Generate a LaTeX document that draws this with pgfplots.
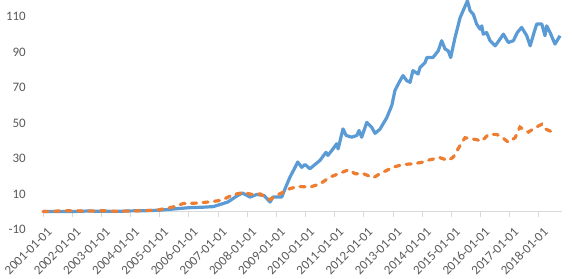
\documentclass[border=0pt]{standalone}
\usepackage{fontspec}
\setmainfont{Carlito}
\usepackage{pgfplots}
\pgfplotsset{compat=1.18}
\definecolor{ser1}{HTML}{5B9BD5}
\definecolor{ser2}{HTML}{ED7D31}
\definecolor{lbl}{HTML}{595959}
\definecolor{axl}{HTML}{D9D9D9}
\begin{document}
\begin{tikzpicture}
\begin{axis}[
  at={(0,0)}, anchor=south west,
  scale only axis, width=519bp, height=230.2bp,
  xmin=0, xmax=213.5, ymin=-10, ymax=120,
  axis x line=middle, axis y line=left,
  hide obscured x ticks=false,
  hide obscured y ticks=false,
  x axis line style={-, draw=axl, line width=1bp},
  y axis line style={draw=none},
  xtick={0,12,...,204},
  xticklabels={2001-01-01,2002-01-01,2003-01-01,2004-01-01,2005-01-01,2006-01-01,2007-01-01,2008-01-01,2009-01-01,2010-01-01,2011-01-01,2012-01-01,2013-01-01,2014-01-01,2015-01-01,2016-01-01,2017-01-01,2018-01-01},
  ytick={-10,10,30,50,70,90,110},
  yticklabels={-10,10,30,50,70,90,110},
  ytick style={draw=none},
  xtick style={draw=axl, line width=1bp},
  tick align=outside, major tick length=5bp,
  xticklabel style={xshift=3.5bp, yshift=-8.5bp, rotate=45, anchor=north east, font=\fontsize{13}{15}\selectfont, text=lbl, inner sep=1bp},
  yticklabel style={font=\fontsize{13}{15}\selectfont, text=lbl, anchor=east, inner sep=0pt, xshift=-12bp},
  /pgf/number format/assume math mode=true,
  clip=false,
]
\addplot[ser1, line width=3.2bp, line join=round] coordinates {
(0,0)(6,0.1)(12,0)(18,0.3)(24,0.2)(30,0.1)(36,0.4)(42,0.5)(48,0.8)(54,1.5)(60,2.2)(66,2.5)(70,2.8)(74,4.5)(76,5.4)(80,9)(82,10.5)(85.2,8.2)(88,9.7)(91,9)(93.4,5.4)(94.6,8.2)(98.2,8.2)
(99.6,13)(101.6,19.5)(103.7,25)(104.8,28)(106.4,25)(107.8,26.6)(109.8,24.2)(111.9,26.6)(114,29)(116.4,33.5)(117.2,31.7)(119.3,35.4)(120.8,38.3)(121.4,35.4)(123.4,46.7)(124.7,43)(127,42)(129.1,43)(130,45.8)(131.1,42)(133.2,50.4)(135.2,47.6)(136.6,44.2)(138.6,46.5)(141.4,53)(143.5,60)(144.8,68.5)(146.9,74)(148.1,76.8)(149.6,74)(151,73)(152.2,79.6)(154.3,77.7)(155.1,81.4)(157.2,84.2)(157.9,87)(160.4,87)(162.6,90.8)(164,96.5)(165.4,91.8)(166.7,90.8)(167.7,87)(169.5,98.3)(171.6,109.6)(173.7,116.2)(174.6,119)(175.7,113.4)(177,111.5)(178.4,105.9)(179.8,103)(180.5,104.9)(181.1,100.2)(182.5,101.1)(183.9,96.5)(186,93.6)(188,97.4)(189.4,100.2)(191.4,95.5)(193.5,96.5)(195.1,101.1)(196.9,104)(199,99.3)(200.4,93.6)(202,101.1)(203.1,105.9)(205.2,105.9)(206.5,99.3)(207.2,104.9)(208.6,101.1)(210.6,94.6)(212.7,99.3)
};
\addplot[ser2, line width=3.2bp, line cap=round, dash pattern=on 5bp off 6.5bp] coordinates {
(0,0)(6,0.3)(12,0.5)(18,0.3)(24,0.5)(30,0.2)(36,0.3)(42,0.6)(46.8,0.8)(53.5,2.6)(57.6,4.5)(63.2,4.8)(68.7,5.5)(73.5,6.4)(78.2,9.6)(82.3,10.7)(86.4,9.6)(89.3,10)(93.4,6.8)(96.1,9.2)(98.9,11)(101.6,13)(105,14.2)(109.8,13.8)(114,15.7)(118.1,19.5)(122.2,21.7)(125.6,23.6)(128.4,21.4)(131.8,21.4)(135.9,19.1)(138.6,21.4)(144.1,25.1)(148.2,26.6)(152.3,27)(156.5,28)(159.2,29.3)(163.3,30.4)(166.7,28.9)(168.8,30.8)(171.6,37.4)(173.6,41.7)(178.4,40.6)(180.5,39.8)(183.2,43.6)(186.6,43.6)(188.7,42.1)(191.4,39.2)(194.2,41.7)(196.2,47.7)(198.3,45.8)(199.7,44.9)(202.4,47.4)(205.2,49.3)(206.5,46.8)(208.6,45.5)(210.6,44.3)
};
\end{axis}
\pgfresetboundingbox
\path[use as bounding box] (-43bp,-49.7bp) rectangle (530bp,229.3bp);
\end{tikzpicture}
\end{document}
